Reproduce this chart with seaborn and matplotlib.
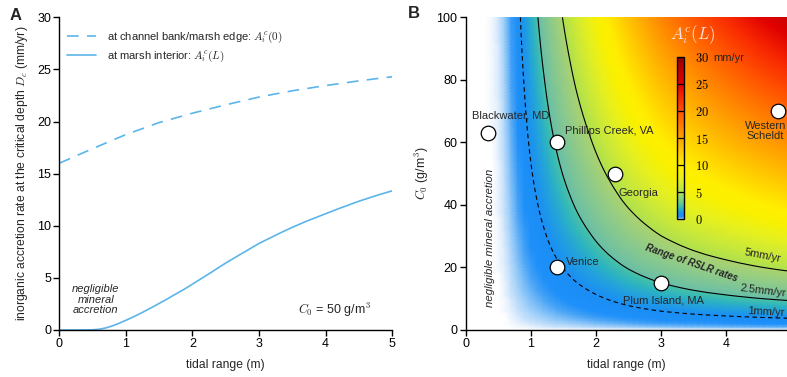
import numpy as np
import pandas as pd
import matplotlib
matplotlib.use("Agg")
import matplotlib.pyplot as plt
from matplotlib.colors import LinearSegmentedColormap, Normalize
import seaborn as sns

# ---------------- data ----------------
# tidal range (m) samples for the marsh-interior curve A_i^c(L) at C0 = 50 g/m3
tidal_range = [0.0, 0.1, 0.2, 0.3, 0.4, 0.5, 0.6, 0.7, 0.8, 0.9,
               1.0, 1.1, 1.2, 1.3, 1.4, 1.5, 1.6, 1.7, 1.8, 1.9,
               2.0, 2.1, 2.2, 2.3, 2.4, 2.5, 2.6, 2.7, 2.8, 2.9,
               3.0, 3.1, 3.2, 3.3, 3.4, 3.5, 3.6, 3.7, 3.8, 3.9,
               4.0, 4.1, 4.2, 4.3, 4.4, 4.5, 4.6, 4.7, 4.8, 4.9, 5.0]
acc_interior = [0.0, 0.0, 0.001, 0.002, 0.006, 0.02, 0.07, 0.2, 0.4, 0.65,
                0.93, 1.22, 1.53, 1.86, 2.2, 2.55, 2.9, 3.27, 3.63, 4.0,
                4.4, 4.8, 5.2, 5.6, 6.02, 6.42, 6.8, 7.18, 7.55, 7.93,
                8.3, 8.62, 8.93, 9.25, 9.55, 9.85, 10.12, 10.4, 10.65, 10.9,
                11.15, 11.4, 11.65, 11.88, 12.12, 12.35, 12.56, 12.77, 12.97, 13.16, 13.35]

# channel bank / marsh edge curve A_i^c(0) at C0 = 50 g/m3
tidal_range_edge = [0.0, 0.5, 1.0, 1.5, 2.0, 2.5, 3.0, 3.5, 4.0, 4.5, 5.0]
acc_edge = [16.0, 17.4, 18.75, 19.9, 20.8, 21.6, 22.35, 22.95, 23.45, 23.9, 24.3]

C0_ref = 50.0
C0_levels = list(range(0, 101))          # g/m3 grid of the map
rslr_levels = [1.0, 2.5, 5.0]           # mm/yr contours

sites = ["Blackwater, MD", "Phillips Creek, VA", "Georgia", "Western\nScheldt",
         "Venice", "Plum Island, MA"]
site_range = [0.35, 1.40, 2.29, 4.80, 1.40, 3.00]
site_C0 = [63, 60, 50, 70, 20, 15]

# ---------------- style ----------------
sns.set_theme(style="ticks")
plt.rcParams["font.family"] = ["Liberation Sans", "DejaVu Sans"]
plt.rcParams["mathtext.fontset"] = "cm"
plt.rcParams["axes.linewidth"] = 1.0
plt.rcParams["xtick.major.size"] = 4
plt.rcParams["ytick.major.size"] = 4
plt.rcParams["xtick.major.width"] = 1.0
plt.rcParams["ytick.major.width"] = 1.0
plt.rcParams["xtick.color"] = "black"
plt.rcParams["ytick.color"] = "black"
plt.rcParams["axes.edgecolor"] = "black"

line_color = "#5BB5EA"

fig = plt.figure(figsize=(7.87, 3.77), dpi=100)
axA = fig.add_axes([0.0754, 0.1247, 0.4228, 0.8294])
axB = fig.add_axes([0.5917, 0.1247, 0.4080, 0.8294])

# ---------------- panel A ----------------
df_edge = pd.DataFrame({"R": tidal_range_edge, "A": acc_edge})
df_int = pd.DataFrame({"R": tidal_range, "A": acc_interior})
sns.lineplot(data=df_edge, x="R", y="A", ax=axA, color=line_color, lw=1.2,
             label=r"at channel bank/marsh edge: $A^c_i(0)$")
axA.lines[-1].set_dashes([7, 5])
sns.lineplot(data=df_int, x="R", y="A", ax=axA, color=line_color, lw=1.2,
             label=r"at marsh interior: $A^c_i(L)$")
axA.set_xlim(0, 5)
axA.set_ylim(0, 30)
axA.set_xticks([0, 1, 2, 3, 4, 5])
axA.set_yticks([0, 5, 10, 15, 20, 25, 30])
axA.tick_params(labelsize=9, pad=2)
axA.set_xlabel("tidal range (m)", fontsize=8.7, labelpad=6)
axA.set_ylabel(r"inorganic accretion rate at the critical depth $D_c$ (mm/yr)",
               fontsize=8.7, labelpad=5)
sns.despine(ax=axA)
leg = axA.legend(loc="upper left", bbox_to_anchor=(0.0, 0.985), frameon=False,
                 fontsize=8, handlelength=2.6, handletextpad=1.0, labelspacing=0.35,
                 borderaxespad=0.3)
leg.get_lines()[0].set_dashes([7, 5])
axA.text(0.55, 2.9, "negligible\nmineral\naccretion", style="italic", fontsize=8,
         ha="center", va="center", linespacing=1.05)
axA.text(3.58, 1.9, r"$C_0$ = 50 g/m$^3$", fontsize=9, ha="left", va="center")

# ---------------- panel B ----------------
R = np.array(tidal_range)
C = np.array(C0_levels, dtype=float)
Z = np.outer(C / C0_ref, np.array(acc_interior))

nodes = [(0.0, "#ffffff"), (0.01, "#eef6fe"), (0.05, "#c4e0fb"), (0.15, "#8cc6f8"),
         (0.3, "#4aa5f6"), (0.5, "#1e90fa"), (1.0, "#1a8ef5"), (1.5, "#22a0e0"),
         (2.0, "#2db5c0"), (2.5, "#4cc2a6"), (3.0, "#66ca92"), (4.0, "#8cd674"),
         (5.0, "#aee050"), (6.0, "#c8e83c"), (7.5, "#e6f020"), (9.0, "#faf000"),
         (10.0, "#fff000"), (12.0, "#ffd000"), (15.0, "#ffa000"), (17.5, "#ff7800"),
         (20.0, "#ff5000"), (22.5, "#f82800"), (25.0, "#e00000"), (28.0, "#b80000"),
         (30.0, "#8b0000")]
cmap = LinearSegmentedColormap.from_list("acc", [(v / 30.0, c) for v, c in nodes], N=4096)
norm = Normalize(0, 30)

axB.pcolormesh(R, C, Z, shading="gouraud", cmap=cmap, norm=norm, rasterized=True)
axB.contourf(R, C, Z, levels=[rslr_levels[1], rslr_levels[2]], colors=["#a8b8b0"], alpha=0.3)
axB.contour(R, C, Z, levels=[rslr_levels[0]], colors="black", linewidths=0.8,
            linestyles=[(0, (4, 3))])
axB.contour(R, C, Z, levels=rslr_levels[1:], colors="black", linewidths=0.8)

df_sites = pd.DataFrame({"R": site_range, "C0": site_C0, "name": sites})
sns.scatterplot(data=df_sites, x="R", y="C0", ax=axB, s=110, color="white",
                edgecolor="black", linewidth=0.9, zorder=5, legend=False)

label_pos = {
    "Blackwater, MD": (0.09, 68.5, "left"),
    "Phillips Creek, VA": (1.52, 63.6, "left"),
    "Georgia": (2.34, 43.9, "left"),
    "Western\nScheldt": (4.6, 63.5, "center"),
    "Venice": (1.54, 21.6, "left"),
    "Plum Island, MA": (2.41, 9.3, "left"),
}
for name in sites:
    x, y, ha = label_pos[name]
    axB.text(x, y, name, fontsize=8, ha=ha, va="center", linespacing=1.0, zorder=6)

axB.text(4.86, 23.8, "5mm/yr", fontsize=8, ha="right", va="center", rotation=-11)
axB.text(4.93, 12.6, "2.5mm/yr", fontsize=8, ha="right", va="center", rotation=-7)
axB.text(4.90, 5.9, "1mm/yr", fontsize=8, ha="right", va="center", rotation=-3)
axB.text(3.47, 21.3, "Range of RSLR rates", fontsize=7, style="italic",
         weight="bold", ha="center", va="center", rotation=-19)
axB.text(0.37, 29.5, "negligible mineral accretion", fontsize=8.2, style="italic",
         ha="center", va="center", rotation=90)

axB.set_xlim(0, 4.93)
axB.set_ylim(0, 100)
axB.set_xticks([0, 1, 2, 3, 4])
axB.set_yticks([0, 20, 40, 60, 80, 100])
axB.tick_params(labelsize=9, pad=2)
axB.set_xlabel("tidal range (m)", fontsize=8.7, labelpad=6)
axB.set_ylabel(r"$C_0$ (g/m$^3$)", fontsize=9, labelpad=4)
sns.despine(ax=axB)

# colorbar
cax = fig.add_axes([0.8606, 0.4183, 0.0085, 0.4313])
cb = fig.colorbar(matplotlib.cm.ScalarMappable(norm=norm, cmap=cmap), cax=cax)
cb.set_ticks([0, 5, 10, 15, 20, 25, 30])
cb.set_ticklabels([f"${v}$" for v in [0, 5, 10, 15, 20, 25, 30]])
cax.tick_params(length=0, labelsize=9, pad=8)
cb.outline.set_linewidth(1.0)
cb.outline.set_edgecolor("black")
for v in [5, 10, 15, 20, 25]:
    cax.axhline(v, color="black", lw=0.9)
fig.text(713 / 787, 1 - 58 / 377, "mm/yr", fontsize=8, ha="left", va="center")
fig.text(693 / 787, 1 - 35 / 377, r"$A^c_i(L)$", fontsize=12, ha="center",
         va="center", color="#fde2e2")

# panel letters
fig.text(10 / 787, 1 - 16 / 377, "A", fontsize=12, weight="bold", va="center")
fig.text(408 / 787, 1 - 14 / 377, "B", fontsize=12, weight="bold", va="center")

fig.savefig("out.png", dpi=100)
